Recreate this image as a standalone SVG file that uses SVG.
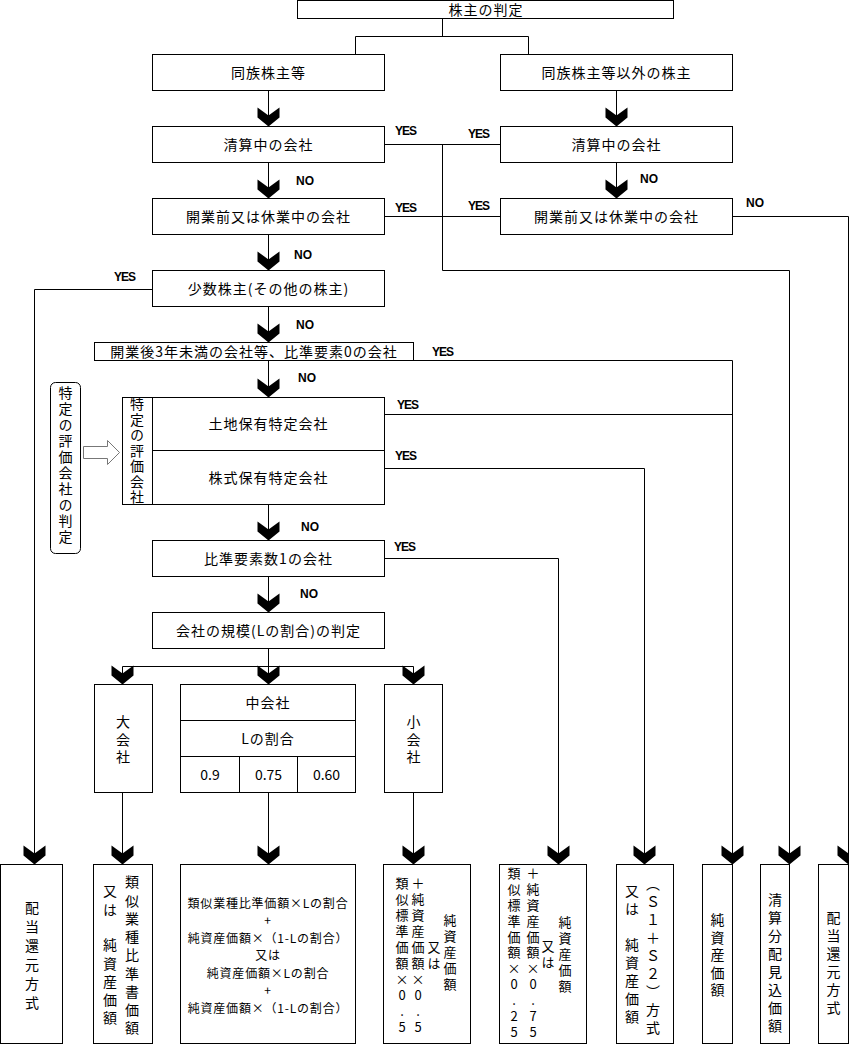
<svg xmlns="http://www.w3.org/2000/svg" width="849" height="1046" viewBox="0 0 849 1046">
<style>
.box{fill:#fff;stroke:#000;stroke-width:1}
.ln{fill:none;stroke:#000;stroke-width:1}
.ar{fill:none;stroke:#000;stroke-width:1;marker-end:url(#ah)}
.t{font-family:'Noto Sans CJK JP','Noto Sans CJK SC',sans-serif;font-size:14px;text-anchor:middle;fill:#000}
.h{letter-spacing:1px}
.s13{font-size:13px}
.f12{font-size:12px;letter-spacing:0.8px}
.v{writing-mode:vertical-rl;text-orientation:upright;text-anchor:start}
.lbl{font-family:'Liberation Sans',Arial,sans-serif;font-size:12px;font-weight:bold;fill:#000}
.y{letter-spacing:-1px}
</style>
<defs>
<marker id="ah" markerUnits="userSpaceOnUse" markerWidth="22" markerHeight="24" viewBox="-20 -12 22 24" refX="0" refY="0" orient="auto" overflow="visible">
<path d="M-19,11 L-11,0 L-19,-11 L-9,-11 L0,0 L-9,11 Z" fill="#000"/>
</marker>
</defs>
<rect width="849" height="1046" fill="#fff"/>

<g id="connectors">
<path class="ln" d="M442.5,18.5 V36.5 M355.5,36.5 H528.5 M355.5,36.5 V54.5 M528.5,36.5 V54.5"/>
<path class="ln" d="M384.5,144.5 H500.5"/>
<path class="ln" d="M384.5,216.5 H500.5"/>
<path class="ln" d="M268.5,648.5 V666.5 M122.5,666.5 H413.5"/>
<path class="ln" d="M384.5,414.5 H732.5"/>
<path class="ar" d="M268.5,90.5 V126.5"/>
<path class="ar" d="M616.5,90.5 V126.5"/>
<path class="ar" d="M268.5,162.5 V198.5"/>
<path class="ar" d="M616.5,162.5 V198.5"/>
<path class="ar" d="M268.5,234.5 V270.5"/>
<path class="ar" d="M268.5,306.5 V342.5"/>
<path class="ar" d="M268.5,360.5 V397.5"/>
<path class="ar" d="M268.5,504.5 V540.5"/>
<path class="ar" d="M268.5,576.5 V612.5"/>
<path class="ar" d="M122.5,666.5 V684.5"/>
<path class="ar" d="M268.5,666.5 V684.5"/>
<path class="ar" d="M413.5,666.5 V684.5"/>
<path class="ar" d="M122.5,792.5 V864.5"/>
<path class="ar" d="M268.5,792.5 V864.5"/>
<path class="ar" d="M413.5,792.5 V864.5"/>
<path class="ar" d="M442.5,144.5 V270.5 H789.5 V864.5"/>
<path class="ar" d="M732.5,216.5 H848.5 V864.5"/>
<path class="ar" d="M152.5,289.5 H34.5 V864.5"/>
<path class="ar" d="M413.5,360.5 H732.5 V864.5"/>
<path class="ar" d="M384.5,468.5 H644.5 V864.5"/>
<path class="ar" d="M384.5,558.5 H558.5 V864.5"/>
<text class="lbl y" x="395" y="134.5">YES</text>
<text class="lbl y" x="468" y="137.5">YES</text>
<text class="lbl" x="296" y="184.5">NO</text>
<text class="lbl" x="640" y="182.5">NO</text>
<text class="lbl y" x="395" y="211.5">YES</text>
<text class="lbl y" x="468" y="209.5">YES</text>
<text class="lbl" x="746" y="206.5">NO</text>
<text class="lbl" x="294" y="258.5">NO</text>
<text class="lbl y" x="114" y="280.5">YES</text>
<text class="lbl" x="296" y="328.5">NO</text>
<text class="lbl y" x="432" y="355.5">YES</text>
<text class="lbl" x="298" y="381.5">NO</text>
<text class="lbl y" x="397" y="408.5">YES</text>
<text class="lbl y" x="395" y="459.5">YES</text>
<text class="lbl" x="301" y="530.5">NO</text>
<text class="lbl y" x="394" y="550.5">YES</text>
<text class="lbl" x="300" y="597.5">NO</text>
</g>

<g id="n-root"><rect class="box" x="297.5" y="0.5" width="376" height="18"/><text class="t h" x="486" y="14.5">株主の判定</text></g>
<g id="n-dozoku"><rect class="box" x="152.5" y="54.5" width="232" height="36"/><text class="t h" x="268.5" y="78">同族株主等</text></g>
<g id="n-igai"><rect class="box" x="500.5" y="54.5" width="232" height="36"/><text class="t h" x="616.5" y="78">同族株主等以外の株主</text></g>
<g id="n-seisan-a"><rect class="box" x="152.5" y="126.5" width="232" height="36"/><text class="t h" x="268.5" y="150">清算中の会社</text></g>
<g id="n-seisan-b"><rect class="box" x="500.5" y="126.5" width="232" height="36"/><text class="t h" x="616.5" y="150">清算中の会社</text></g>
<g id="n-kaigyo-a"><rect class="box" x="152.5" y="198.5" width="232" height="36"/><text class="t h" x="268.5" y="222">開業前又は休業中の会社</text></g>
<g id="n-kaigyo-b"><rect class="box" x="500.5" y="198.5" width="232" height="36"/><text class="t h" x="616.5" y="222">開業前又は休業中の会社</text></g>
<g id="n-shosu"><rect class="box" x="152.5" y="270.5" width="232" height="36"/><text class="t h" x="268.5" y="294">少数株主(その他の株主)</text></g>
<g id="n-3nen"><rect class="box" x="94.5" y="342.5" width="319" height="18"/><text class="t h" x="254" y="356.5">開業後3年未満の会社等、比準要素0の会社</text></g>
<g id="n-tokutei">
<rect class="box" x="122.5" y="397.5" width="262" height="107"/>
<path class="ln" d="M152.5,397.5 V504.5 M152.5,450.5 H384.5"/>
<text class="t v"><tspan x="137" y="397">特</tspan><tspan x="137" y="412.5">定</tspan><tspan x="137" y="428">の</tspan><tspan x="137" y="443.5">評</tspan><tspan x="137" y="459">価</tspan><tspan x="137" y="474.5">会</tspan><tspan x="137" y="490">社</tspan></text>
<text class="t h" x="268.5" y="429">土地保有特定会社</text>
<text class="t h" x="268.5" y="482.5">株式保有特定会社</text>
</g>
<g id="n-hantei">
<rect x="50.5" y="382.5" width="30" height="171" rx="5" ry="5" fill="#fff" stroke="#000" stroke-width="1"/>
<text class="t v"><tspan x="65.5" y="386">特</tspan><tspan x="65.5" y="402">定</tspan><tspan x="65.5" y="418">の</tspan><tspan x="65.5" y="434">評</tspan><tspan x="65.5" y="450">価</tspan><tspan x="65.5" y="466">会</tspan><tspan x="65.5" y="482">社</tspan><tspan x="65.5" y="498">の</tspan><tspan x="65.5" y="514">判</tspan><tspan x="65.5" y="530">定</tspan></text>
</g>
<g id="hollow-arrow"><polygon points="83.5,446.5 107.5,446.5 107.5,440.5 119.5,452.5 107.5,464.5 107.5,458.5 83.5,458.5" fill="#fff" stroke="#777" stroke-width="1"/></g>
<g id="n-hijun1"><rect class="box" x="152.5" y="540.5" width="232" height="36"/><text class="t h" x="268.5" y="564">比準要素数1の会社</text></g>
<g id="n-kibo"><rect class="box" x="152.5" y="612.5" width="232" height="36"/><text class="t h" x="268.5" y="636">会社の規模(Lの割合)の判定</text></g>
<g id="n-dai"><rect class="box" x="94.5" y="684.5" width="58" height="108"/><text class="t v"><tspan x="123" y="715">大</tspan><tspan x="123" y="732.5">会</tspan><tspan x="123" y="750">社</tspan></text></g>
<g id="n-chu">
<rect class="box" x="180.5" y="684.5" width="175" height="108"/>
<path class="ln" d="M180.5,720.5 H355.5 M180.5,756.5 H355.5 M239.5,756.5 V792.5 M297.5,756.5 V792.5"/>
<text class="t h" x="268" y="707.5">中会社</text>
<text class="t h" x="268" y="743.5">Lの割合</text>
<text class="t" x="210" y="779.5">0.9</text>
<text class="t" x="268.5" y="779.5">0.75</text>
<text class="t" x="326.5" y="779.5">0.60</text>
</g>
<g id="n-sho"><rect class="box" x="384.5" y="684.5" width="58" height="108"/><text class="t v"><tspan x="413.5" y="715">小</tspan><tspan x="413.5" y="732.5">会</tspan><tspan x="413.5" y="750">社</tspan></text></g>

<g id="r-haito1"><rect class="box" x="0.5" y="864.5" width="62" height="179"/>
<text class="t v"><tspan x="32" y="901">配</tspan><tspan x="32" y="920">当</tspan><tspan x="32" y="939">還</tspan><tspan x="32" y="958">元</tspan><tspan x="32" y="977">方</tspan><tspan x="32" y="996">式</tspan></text></g>
<g id="r-dai"><rect class="box" x="93.5" y="864.5" width="59" height="179"/>
<text class="t v"><tspan x="132" y="875">類</tspan><tspan x="132" y="893.25">似</tspan><tspan x="132" y="911.5">業</tspan><tspan x="132" y="929.75">種</tspan><tspan x="132" y="948">比</tspan><tspan x="132" y="966.25">準</tspan><tspan x="132" y="984.5">書</tspan><tspan x="132" y="1002.75">価</tspan><tspan x="132" y="1021">額</tspan><tspan x="110" y="884">又</tspan><tspan x="110" y="902.25">は</tspan><tspan x="110" y="938">純</tspan><tspan x="110" y="956.25">資</tspan><tspan x="110" y="974.5">産</tspan><tspan x="110" y="992.75">価</tspan><tspan x="110" y="1011">額</tspan></text></g>
<g id="r-chu"><rect class="box" x="180.5" y="864.5" width="175" height="179"/>
<text class="t f12"><tspan x="268" y="907.6">類似業種比準価額×Lの割合</tspan><tspan x="268" y="925.1">+</tspan><tspan x="268" y="942.6">純資産価額×（1-Lの割合）</tspan><tspan x="268" y="960.1">又は</tspan><tspan x="268" y="977.6">純資産価額×Lの割合</tspan><tspan x="268" y="995.1">+</tspan><tspan x="268" y="1012.6">純資産価額×（1-Lの割合）</tspan></text></g>
<g id="r-sho"><rect class="box" x="383.5" y="864.5" width="87" height="179"/>
<text class="t s13 v"><tspan x="402" y="876.5">類</tspan><tspan x="402" y="892.5">似</tspan><tspan x="402" y="908.5">標</tspan><tspan x="402" y="924.5">準</tspan><tspan x="402" y="940.5">価</tspan><tspan x="402" y="956.5">額</tspan><tspan x="402" y="972.5">×</tspan><tspan x="402" y="988.5">0</tspan><tspan x="402" y="1004.5">.</tspan><tspan x="402" y="1020.5">5</tspan><tspan x="418" y="876.5">＋</tspan><tspan x="418" y="892.5">純</tspan><tspan x="418" y="908.5">資</tspan><tspan x="418" y="924.5">産</tspan><tspan x="418" y="940.5">価</tspan><tspan x="418" y="956.5">額</tspan><tspan x="418" y="972.5">×</tspan><tspan x="418" y="988.5">0</tspan><tspan x="418" y="1004.5">.</tspan><tspan x="418" y="1020.5">5</tspan><tspan x="434" y="940.5">又</tspan><tspan x="434" y="956.5">は</tspan><tspan x="450" y="914">純</tspan><tspan x="450" y="930">資</tspan><tspan x="450" y="946">産</tspan><tspan x="450" y="962">価</tspan><tspan x="450" y="978">額</tspan></text></g>
<g id="r-hijun1"><rect class="box" x="499.5" y="864.5" width="87" height="179"/>
<text class="t s13 v"><tspan x="514" y="866.5">類</tspan><tspan x="514" y="882.4">似</tspan><tspan x="514" y="898.3">標</tspan><tspan x="514" y="914.2">準</tspan><tspan x="514" y="930.1">価</tspan><tspan x="514" y="946">額</tspan><tspan x="514" y="961.9">×</tspan><tspan x="514" y="977.8">0</tspan><tspan x="514" y="993.7">.</tspan><tspan x="514" y="1009.6">2</tspan><tspan x="514" y="1025.5">5</tspan><tspan x="533" y="866.5">＋</tspan><tspan x="533" y="882.4">純</tspan><tspan x="533" y="898.3">資</tspan><tspan x="533" y="914.2">産</tspan><tspan x="533" y="930.1">価</tspan><tspan x="533" y="946">額</tspan><tspan x="533" y="961.9">×</tspan><tspan x="533" y="977.8">0</tspan><tspan x="533" y="993.7">.</tspan><tspan x="533" y="1009.6">7</tspan><tspan x="533" y="1025.5">5</tspan><tspan x="548" y="939.5">又</tspan><tspan x="548" y="955.4">は</tspan><tspan x="565" y="915.5">純</tspan><tspan x="565" y="931.5">資</tspan><tspan x="565" y="947.5">産</tspan><tspan x="565" y="963.5">価</tspan><tspan x="565" y="979.5">額</tspan></text></g>
<g id="r-kabu"><rect class="box" x="616.5" y="864.5" width="57" height="179"/>
<text class="t v"><tspan x="653" y="877">（</tspan><tspan x="653" y="895">Ｓ</tspan><tspan x="653" y="913">１</tspan><tspan x="653" y="931">＋</tspan><tspan x="653" y="949">Ｓ</tspan><tspan x="653" y="967">２</tspan><tspan x="653" y="985">）</tspan><tspan x="653" y="1003">方</tspan><tspan x="653" y="1021">式</tspan><tspan x="632" y="884">又</tspan><tspan x="632" y="902">は</tspan><tspan x="632" y="938">純</tspan><tspan x="632" y="956">資</tspan><tspan x="632" y="974">産</tspan><tspan x="632" y="992">価</tspan><tspan x="632" y="1010">額</tspan></text></g>
<g id="r-junshisan"><rect class="box" x="702.5" y="864.5" width="30" height="179"/>
<text class="t v"><tspan x="717.5" y="913">純</tspan><tspan x="717.5" y="930.5">資</tspan><tspan x="717.5" y="948">産</tspan><tspan x="717.5" y="965.5">価</tspan><tspan x="717.5" y="983">額</tspan></text></g>
<g id="r-seisan"><rect class="box" x="760.5" y="864.5" width="29" height="179"/>
<text class="t v"><tspan x="775" y="893">清</tspan><tspan x="775" y="911">算</tspan><tspan x="775" y="929">分</tspan><tspan x="775" y="947">配</tspan><tspan x="775" y="965">見</tspan><tspan x="775" y="983">込</tspan><tspan x="775" y="1001">価</tspan><tspan x="775" y="1019">額</tspan></text></g>
<g id="r-haito2"><rect class="box" x="818.5" y="864.5" width="30" height="179"/>
<text class="t v"><tspan x="833.5" y="911">配</tspan><tspan x="833.5" y="929">当</tspan><tspan x="833.5" y="947">還</tspan><tspan x="833.5" y="965">元</tspan><tspan x="833.5" y="983">方</tspan><tspan x="833.5" y="1001">式</tspan></text></g>
</svg>
